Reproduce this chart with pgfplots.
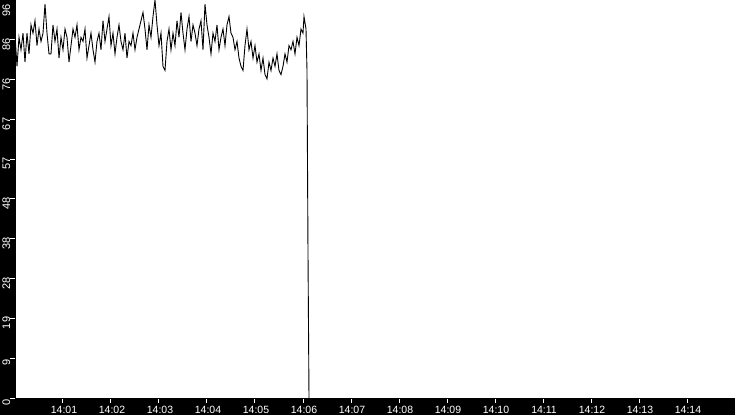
\documentclass[border=0pt]{standalone}
\usepackage{fontspec}
\setmainfont{Liberation Sans}
\usepackage{pgfplots}
\pgfplotsset{compat=1.18}

\begin{document}
\begin{tikzpicture}
% black frame strips left and below the plot
\useasboundingbox (-15pt,-17pt) rectangle (720pt,398pt);
\fill[black] (-15pt,-17pt) rectangle (720pt,398pt);
\begin{axis}[
    scale only axis,
    width=720pt, height=398pt,
    at={(0,0)}, anchor=south west,
    xmin=0, xmax=900,
    ymin=0, ymax=96,
    axis lines*=left,
    axis line style={black},
    axis background/.style={fill=white},
    xtick={60,120,180,240,300,360,420,480,540,600,660,720,780,840},
    xticklabels={14:01,14:02,14:03,14:04,14:05,14:06,14:07,14:08,14:09,14:10,14:11,14:12,14:13,14:14},
    ytick={0,9.6,19.2,28.8,38.4,48,57.6,67.2,76.8,86.4},
    yticklabels={0,9,19,28,38,48,57,67,76,86},
    extra y ticks={96},
    extra y tick labels={96},
    extra y tick style={yticklabel style={anchor=south east}},
    tick align=outside,
    major tick length=4.5pt,
    tick style={white, line width=1pt},
    /pgf/number format/assume math mode=true,
    xticklabel style={font=\fontsize{10.5}{12}\selectfont, text=white, inner sep=0pt, anchor=north, yshift=-3.5pt, xshift=1pt},
    yticklabel style={font=\fontsize{11}{12}\selectfont, text=white, inner sep=0pt, rotate=90, anchor=south, xshift=-4.5pt},
    clip=true,
]
\addplot[black, line width=0.9pt, line join=miter, mark=none] coordinates {
(0,87.5)(2.5,80)(5,87)(7.5,84)(10,88)(12.5,81)(15,88)(17.5,83)(20,90)(22.5,88)
(25,91)(27.5,85)(30,89)(32.5,86)(35,88)(37.5,95)(40,88)(42.5,83)(45,83)(47.5,90)
(50,86)(52.5,89)(55,82)(57.5,87)(60,84)(62.5,89)(65,87)(67.5,81)(70,85)(72.5,89)
(75,87)(77.5,90)(80,84)(82.5,87)(85,86)(87.5,89)(90,82)(92.5,85)(95,88)(97.5,84)
(100,81)(102.5,86)(105,88)(107.5,84)(110,91)(112.5,86)(115,89)(117.5,92)(120,85)(122.5,88)
(125,83)(127.5,87)(130,90)(132.5,86)(135,84)(137.5,88)(140,82)(142.5,86)(145,85)(147.5,88)
(150,84)(152.5,87)(155,89)(157.5,91)(160,93)(162.5,89)(165,84)(167.5,90)(170,87)(172.5,92)
(175,96)(177.5,90)(180,85)(182.5,88)(185,80)(187.5,79)(190,86)(192.5,89)(195,84)(197.5,88)
(200,85)(202.5,91)(205,87)(207.5,93)(210,88)(212.5,84)(215,89)(217.5,92)(220,86)(222.5,90)
(225,88)(227.5,85)(230,89)(232.5,91)(235,84)(237.5,95)(240,90)(242.5,87)(245,83)(247.5,88)
(250,86)(252.5,90)(255,84)(257.5,87)(260,89)(262.5,85)(265,90)(267.5,92)(270,88)(272.5,87)
(275,84)(277.5,86)(280,82)(282.5,80)(285,79)(287.5,85)(290,89)(292.5,84)(295,86)(297.5,82)
(300,85)(302.5,81)(305,83)(307.5,79)(310,82)(312.5,78)(315,77)(317.5,81)(320,79)(322.5,82)
(325,80)(327.5,83)(330,79)(332.5,78)(335,80)(337.5,83)(340,81)(342.5,85)(345,84)(347.5,86)
(350,83)(352.5,87)(355,85)(357.5,89)(360,88)(361.25,92)(363.75,89)(365,79)(366.25,35)(367.5,0)
};
\end{axis}
\end{tikzpicture}
\end{document}
